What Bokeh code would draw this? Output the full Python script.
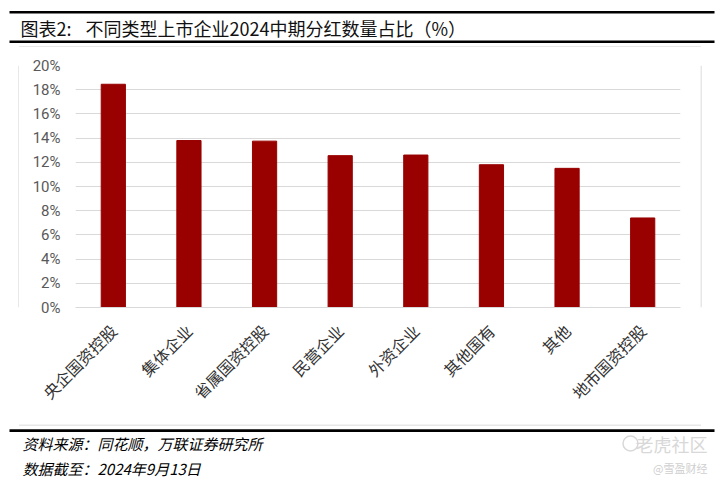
import math
from bokeh.plotting import figure
from bokeh.layouts import column, row
from bokeh.models import Range1d, FactorRange, FixedTicker, ColumnDataSource
from bokeh.core.properties import value
from bokeh.embed import file_html
from bokeh.resources import INLINE

# ---- data ----
categories = ["央企国资控股", "集体企业", "省属国资控股", "民营企业",
              "外资企业", "其他国有", "其他", "地市国资控股"]
shares = [18.45, 13.8, 13.75, 12.55, 12.6, 11.8, 11.5, 7.4]
y_ticks = [0, 2, 4, 6, 8, 10, 12, 14, 16, 18, 20]
y_tick_labels = [f"{t}%" for t in y_ticks]

title_label = "图表2:"
title_text = "不同类型上市企业2024中期分红数量占比（%）"
source_text = "资料来源：同花顺，万联证券研究所"
date_text = "数据截至：2024年9月13日"
wm_text1 = "老虎社区"
wm_text2 = "@雪盈财经"

CJK = "Noto Sans CJK SC"
BOX = "#d0d0d0"


def deco(width, height):
    f = figure(width=width, height=height, output_backend="svg", toolbar_location=None,
               x_range=Range1d(0, width), y_range=Range1d(height, 0),
               x_axis_type=None, y_axis_type=None,
               min_border=0, min_border_left=0, min_border_right=0,
               min_border_top=0, min_border_bottom=0)
    f.outline_line_color = None
    f.background_fill_color = "white"
    f.border_fill_color = "white"
    return f


# ---- top strip: rules + title ----
top = deco(720, 47)
top.quad(left=[9, 9], right=[714, 714], top=[10.5, 40], bottom=[13, 42.6],
         color="black", line_color=None)
top.segment(x0=[18.5], y0=[46.5], x1=[700.5], y1=[46.5], line_color=BOX, line_width=1)
top.text(x=[20, 85], y=[27, 27], text=[title_label, title_text], text_font=value(CJK),
         text_font_size=value("18px"), text_color="#111111",
         text_baseline="middle", text_align="left")

# ---- side strips (box edges) ----
left_strip = deco(19, 377)
left_strip.segment(x0=[18.5], y0=[0], x1=[18.5], y1=[377], line_color=BOX, line_width=1)
right_strip = deco(20, 377)
right_strip.segment(x0=[0.5], y0=[0], x1=[0.5], y1=[377], line_color=BOX, line_width=1)

# ---- chart ----
src = ColumnDataSource(dict(cat=categories, val=shares))
p = figure(width=681, height=377, output_backend="svg", toolbar_location=None,
           x_range=FactorRange(*categories, range_padding=0),
           y_range=Range1d(0, 20),
           min_border_left=56, min_border_right=20,
           min_border_top=18, min_border_bottom=117)
p.outline_line_color = None
p.background_fill_color = "white"
p.border_fill_color = "white"

p.vbar(x="cat", top="val", width=0.32, source=src, color="#990000")

p.yaxis.ticker = FixedTicker(ticks=y_ticks)
p.yaxis.major_label_overrides = {t: l for t, l in zip(y_ticks, y_tick_labels)}
p.yaxis.axis_line_color = None
p.yaxis.major_tick_line_color = None
p.yaxis.minor_tick_line_color = None
p.yaxis.major_label_standoff = 9
p.yaxis.major_label_text_font = "Roboto"
p.yaxis.major_label_text_font_size = "15px"
p.yaxis.major_label_text_color = "#595959"

p.xaxis.axis_line_color = "#d9d9d9"
p.xaxis.major_tick_line_color = None
p.xaxis.minor_tick_line_color = None
p.xaxis.major_label_orientation = math.pi / 4
p.xaxis.major_label_standoff = 14
p.xaxis.major_label_text_font = CJK
p.xaxis.major_label_text_font_size = "16px"
p.xaxis.major_label_text_color = "#333333"

p.xgrid.grid_line_color = None
p.ygrid.grid_line_color = "#d9d9d9"
p.ygrid.grid_line_width = 1

# ---- bottom strip: box bottom, rule, footer ----
bottom = deco(720, 59)
bottom.segment(x0=[18.5], y0=[0.5], x1=[700.5], y1=[0.5], line_color=BOX, line_width=1)
bottom.quad(left=[9], right=[714], top=[4.8], bottom=[7.4], color="black", line_color=None)
bottom.text(x=[22], y=[19], text=[source_text], text_font=value(CJK),
            text_font_size=value("15px"), text_font_style="italic", text_color="black",
            text_baseline="middle", text_align="left")
bottom.text(x=[22], y=[44], text=[date_text], text_font=value(CJK),
            text_font_size=value("15px"), text_font_style="italic", text_color="black",
            text_baseline="middle", text_align="left")
bottom.scatter(x=[630], y=[19], size=15, marker="circle", fill_color=None,
               line_color="#d8d8d8", line_width=1.5)
bottom.text(x=[707], y=[19], text=[wm_text1], text_font=value(CJK),
            text_font_size=value("18px"), text_color="#d8d8d8",
            text_baseline="middle", text_align="right")
bottom.text(x=[707], y=[43], text=[wm_text2], text_font=value(CJK),
            text_font_size=value("11px"), text_color="#cfcfcf",
            text_baseline="middle", text_align="right")

layout = column(top, row(left_strip, p, right_strip), bottom)

open("out.html", "w").write(file_html(layout, INLINE))
